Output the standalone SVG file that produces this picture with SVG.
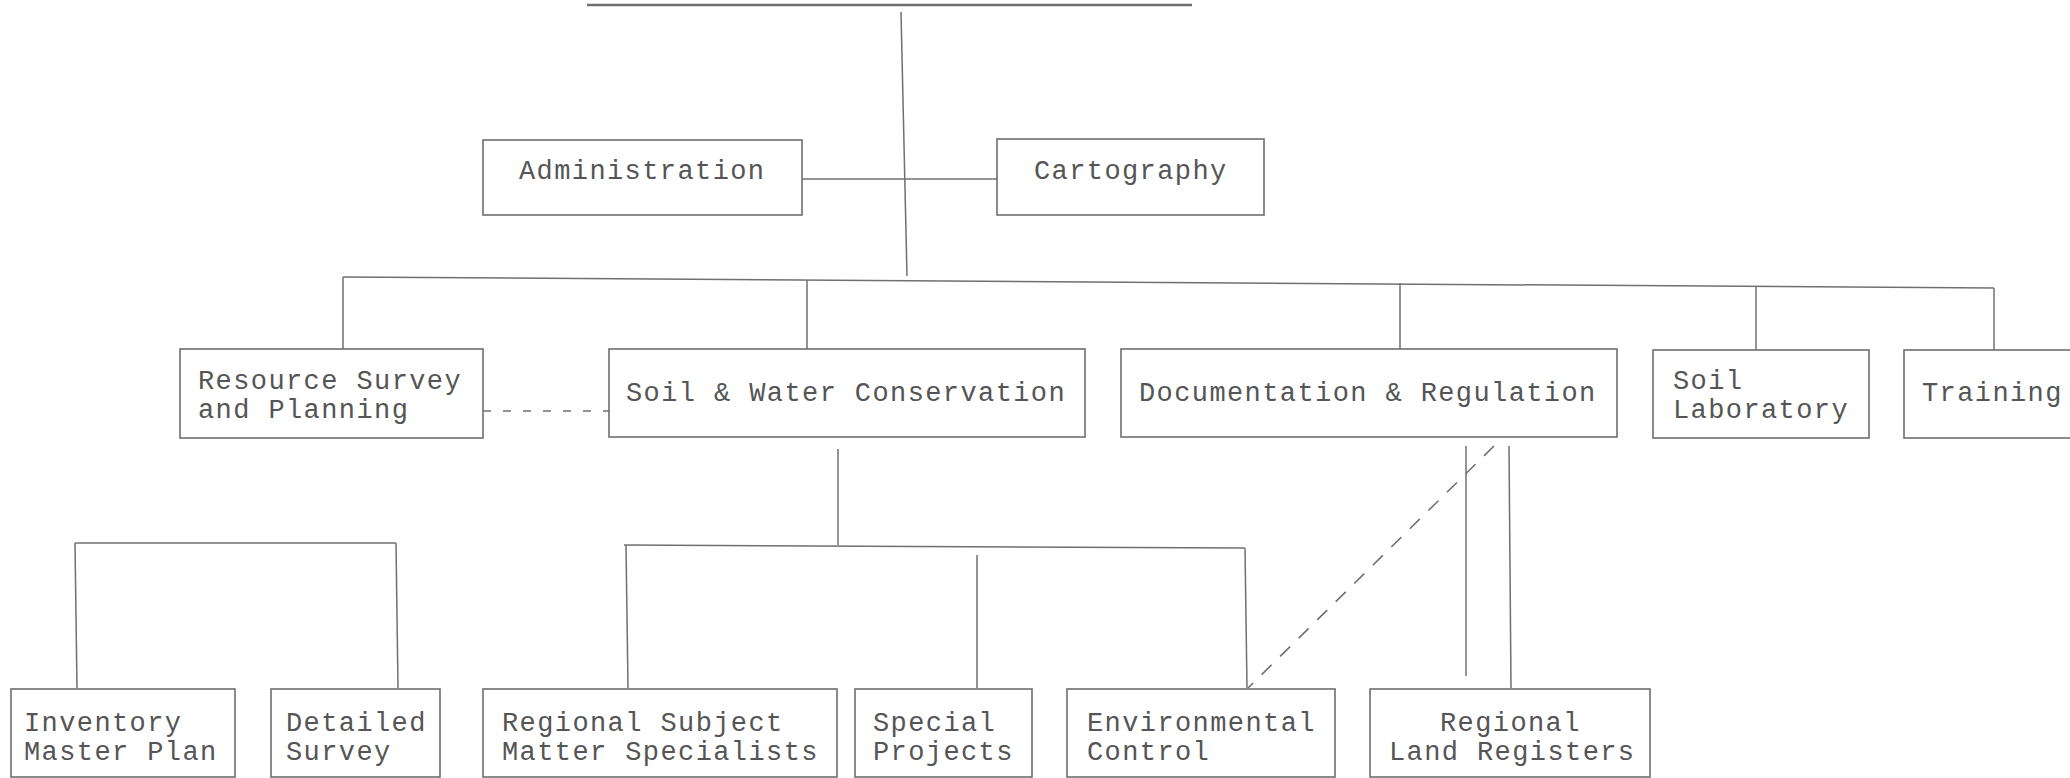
<svg xmlns="http://www.w3.org/2000/svg" width="2070" height="778" viewBox="0 0 2070 778">
<style>
.box{fill:none;stroke:#6e6e6e;stroke-width:1.6}
.t{font-family:"Liberation Mono","DejaVu Sans Mono",monospace;font-size:27px;letter-spacing:1.4px;fill:#555}
.ln{fill:none;stroke:#707070;stroke-width:1.5}
.dash{fill:none;stroke:#707070;stroke-width:1.6;stroke-dasharray:14 12}
</style>
<rect width="2070" height="778" fill="#fff"/>
<g id="connectors">
<line class="ln" x1="587" y1="5" x2="1192" y2="5" style="stroke-width:2.5"/>
<line class="ln" x1="901" y1="12" x2="907" y2="276"/>
<line class="ln" x1="802" y1="179" x2="997" y2="179"/>
<line class="ln" x1="343" y1="277" x2="1994" y2="288"/>
<line class="ln" x1="343" y1="277" x2="343" y2="349"/>
<line class="ln" x1="807" y1="280" x2="807" y2="349"/>
<line class="ln" x1="1400" y1="283" x2="1400" y2="349"/>
<line class="ln" x1="1756" y1="286" x2="1756" y2="350"/>
<line class="ln" x1="1994" y1="288" x2="1994" y2="350"/>
<line class="dash" x1="483" y1="411" x2="609" y2="411" style="stroke-dasharray:8 12"/>
<line class="ln" x1="838" y1="449" x2="838" y2="545"/>
<line class="ln" x1="624" y1="545" x2="1245" y2="548"/>
<line class="ln" x1="626" y1="545" x2="628" y2="688"/>
<line class="ln" x1="977" y1="555" x2="977" y2="688"/>
<line class="ln" x1="1245" y1="548" x2="1247" y2="688"/>
<line class="ln" x1="75" y1="543" x2="396" y2="543"/>
<line class="ln" x1="75" y1="543" x2="77" y2="688"/>
<line class="ln" x1="396" y1="543" x2="398" y2="688"/>
<line class="ln" x1="1466" y1="446" x2="1466" y2="676"/>
<line class="ln" x1="1509" y1="446" x2="1511" y2="688"/>
<line class="dash" x1="1494" y1="446" x2="1248" y2="688"/>
</g>
<g id="administration"><rect class="box" x="483" y="140" width="319" height="75"/><text class="t" x="519" y="179">Administration</text></g>
<g id="cartography"><rect class="box" x="997" y="139" width="267" height="76"/><text class="t" x="1034" y="179">Cartography</text></g>
<g id="resource-survey"><rect class="box" x="180" y="349" width="303" height="89"/><text class="t" x="198" y="389">Resource Survey</text><text class="t" x="198" y="418">and Planning</text></g>
<g id="soil-water"><rect class="box" x="609" y="349" width="476" height="88"/><text class="t" x="626" y="401">Soil &amp; Water Conservation</text></g>
<g id="documentation"><rect class="box" x="1121" y="349" width="496" height="88"/><text class="t" x="1139" y="401">Documentation &amp; Regulation</text></g>
<g id="soil-laboratory"><rect class="box" x="1653" y="350" width="216" height="88"/><text class="t" x="1673" y="389">Soil</text><text class="t" x="1673" y="418">Laboratory</text></g>
<g id="training"><rect class="box" x="1904" y="350" width="180" height="88"/><text class="t" x="1922" y="401">Training</text></g>
<g id="inventory"><rect class="box" x="11" y="689" width="224" height="88"/><text class="t" x="24" y="731">Inventory</text><text class="t" x="24" y="760">Master Plan</text></g>
<g id="detailed-survey"><rect class="box" x="271" y="689" width="169" height="88"/><text class="t" x="286" y="731">Detailed</text><text class="t" x="286" y="760">Survey</text></g>
<g id="regional-subject"><rect class="box" x="483" y="689" width="354" height="88"/><text class="t" x="502" y="731">Regional Subject</text><text class="t" x="502" y="760">Matter Specialists</text></g>
<g id="special-projects"><rect class="box" x="855" y="689" width="177" height="88"/><text class="t" x="873" y="731">Special</text><text class="t" x="873" y="760">Projects</text></g>
<g id="environmental"><rect class="box" x="1067" y="689" width="268" height="88"/><text class="t" x="1087" y="731">Environmental</text><text class="t" x="1087" y="760">Control</text></g>
<g id="regional-land"><rect class="box" x="1370" y="689" width="280" height="88"/><text class="t" x="1440" y="731">Regional</text><text class="t" x="1389" y="760">Land Registers</text></g>
</svg>
